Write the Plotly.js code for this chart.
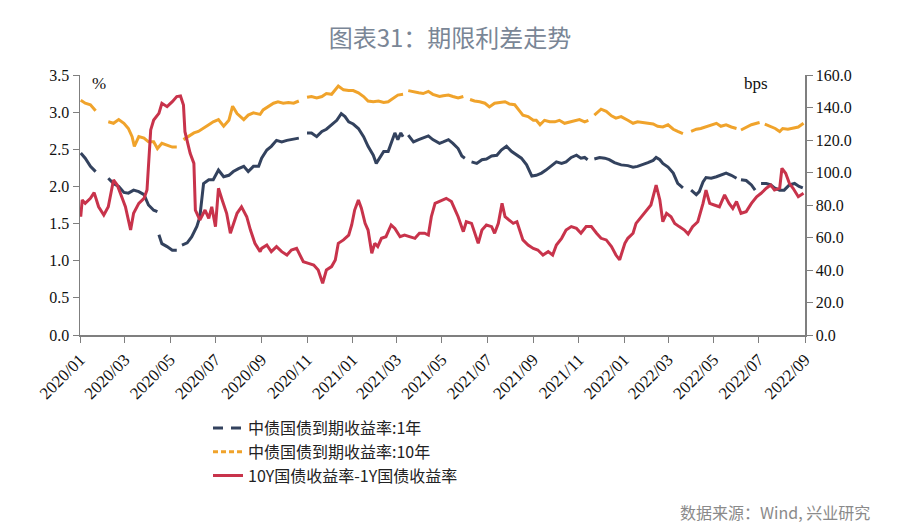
<!DOCTYPE html>
<html><head><meta charset="utf-8">
<script src="https://cdn.plot.ly/plotly-3.0.1.min.js"></script>
<style>html,body{margin:0;padding:0;background:#fff}#chart{width:900px;height:530px}</style>
</head><body><div id="chart"></div>
<script>
// ---- 中债国债到期收益率:10年 (%) ----
const dates10y = ["2020-01-02","2020-01-08","2020-01-15","2020-01-22","2020-01-28","2020-02-08","2020-02-15","2020-02-22","2020-02-29","2020-03-06","2020-03-11","2020-03-14","2020-03-20","2020-03-27","2020-04-02","2020-04-09","2020-04-14","2020-04-20","2020-04-27","2020-05-04","2020-05-10","2020-05-13","2020-05-19","2020-05-26","2020-06-02","2020-06-08","2020-06-15","2020-06-22","2020-06-28","2020-07-05","2020-07-12","2020-07-19","2020-07-24","2020-07-30","2020-08-08","2020-08-14","2020-08-21","2020-08-30","2020-09-03","2020-09-10","2020-09-17","2020-09-23","2020-09-30","2020-10-07","2020-10-14","2020-10-21","2020-10-26","2020-11-01","2020-11-07","2020-11-14","2020-11-21","2020-11-27","2020-12-04","2020-12-13","2020-12-20","2020-12-27","2021-01-02","2021-01-09","2021-01-16","2021-01-22","2021-01-29","2021-02-05","2021-02-12","2021-02-18","2021-02-25","2021-03-03","2021-03-10","2021-03-13","2021-03-17","2021-03-24","2021-03-31","2021-04-06","2021-04-13","2021-04-19","2021-04-28","2021-05-03","2021-05-10","2021-05-16","2021-05-23","2021-05-30","2021-06-03","2021-06-08","2021-06-14","2021-06-21","2021-06-28","2021-07-04","2021-07-11","2021-07-18","2021-07-25","2021-07-31","2021-08-07","2021-08-14","2021-08-18","2021-08-25","2021-09-01","2021-09-05","2021-09-10","2021-09-16","2021-09-23","2021-09-30","2021-10-06","2021-10-13","2021-10-20","2021-10-27","2021-11-02","2021-11-09","2021-11-14","2021-11-18","2021-11-22","2021-12-01","2021-12-08","2021-12-15","2021-12-21","2021-12-28","2022-01-06","2022-01-13","2022-01-19","2022-01-26","2022-02-02","2022-02-09","2022-02-15","2022-02-22","2022-03-01","2022-03-08","2022-03-14","2022-03-21","2022-03-25","2022-04-01","2022-04-08","2022-04-14","2022-04-21","2022-04-28","2022-05-05","2022-05-11","2022-05-18","2022-05-25","2022-06-01","2022-06-04","2022-06-07","2022-06-14","2022-06-21","2022-06-28","2022-07-02","2022-07-05","2022-07-09","2022-07-16","2022-07-23","2022-07-29","2022-08-02","2022-08-09","2022-08-16","2022-08-23","2022-08-30"];
const yield10y = [3.16,3.12,3.10,3.02,null,2.87,2.85,2.90,2.85,2.78,2.67,2.54,2.67,2.65,2.60,2.60,2.51,2.58,2.56,2.53,2.53,null,2.63,2.67,2.72,2.74,2.78,2.83,2.87,2.90,2.81,2.89,3.08,2.98,2.90,2.96,2.99,2.97,3.03,3.07,3.12,3.14,3.12,3.13,3.12,3.15,null,3.20,3.21,3.19,3.21,3.25,3.24,3.35,3.30,3.29,3.29,3.26,3.21,3.15,3.14,3.15,3.13,3.14,3.19,3.23,3.24,null,3.29,3.28,3.26,3.25,3.28,3.24,3.21,3.22,3.23,3.21,3.19,3.21,null,3.17,3.15,3.14,3.12,3.07,3.12,3.13,3.14,3.11,3.10,3.01,2.96,2.94,2.89,2.89,2.83,2.89,2.87,2.87,2.89,2.85,2.87,2.89,2.90,2.87,2.89,null,2.96,3.04,3.01,2.95,2.92,2.94,2.89,2.85,2.87,2.86,2.85,2.84,2.81,2.80,2.83,2.77,2.74,2.71,null,2.74,2.77,2.78,2.80,2.83,2.85,2.81,2.83,2.80,2.78,null,2.76,2.80,2.83,2.85,2.86,null,2.84,2.81,2.78,2.74,2.78,2.77,2.78,2.80,2.85];

// ---- 中债国债到期收益率:1年 (%) ----
const dates1y = ["2020-01-02","2020-01-08","2020-01-15","2020-01-22","2020-01-28","2020-02-08","2020-02-15","2020-02-22","2020-02-29","2020-03-06","2020-03-13","2020-03-20","2020-03-27","2020-04-02","2020-04-09","2020-04-14","2020-04-15","2020-04-16","2020-04-20","2020-04-27","2020-05-04","2020-05-10","2020-05-13","2020-05-17","2020-05-24","2020-05-30","2020-06-06","2020-06-10","2020-06-15","2020-06-22","2020-06-28","2020-07-05","2020-07-12","2020-07-19","2020-07-25","2020-08-01","2020-08-08","2020-08-14","2020-08-21","2020-08-28","2020-09-01","2020-09-08","2020-09-14","2020-09-21","2020-09-28","2020-10-05","2020-10-11","2020-10-21","2020-10-26","2020-11-01","2020-11-07","2020-11-14","2020-11-21","2020-11-27","2020-12-04","2020-12-11","2020-12-17","2020-12-22","2020-12-27","2021-01-02","2021-01-09","2021-01-16","2021-01-22","2021-01-29","2021-02-02","2021-02-06","2021-02-12","2021-02-18","2021-02-22","2021-02-27","2021-03-03","2021-03-07","2021-03-10","2021-03-13","2021-03-17","2021-03-24","2021-03-31","2021-04-06","2021-04-13","2021-04-19","2021-04-28","2021-05-03","2021-05-10","2021-05-16","2021-05-23","2021-05-28","2021-06-01","2021-06-04","2021-06-10","2021-06-17","2021-06-24","2021-06-30","2021-07-07","2021-07-14","2021-07-20","2021-07-27","2021-08-03","2021-08-10","2021-08-16","2021-08-23","2021-08-30","2021-09-05","2021-09-12","2021-09-18","2021-09-25","2021-10-02","2021-10-09","2021-10-15","2021-10-22","2021-10-29","2021-11-04","2021-11-09","2021-11-13","2021-11-18","2021-11-22","2021-11-29","2021-12-06","2021-12-12","2021-12-19","2021-12-28","2022-01-06","2022-01-13","2022-01-19","2022-01-26","2022-02-02","2022-02-09","2022-02-13","2022-02-18","2022-02-22","2022-03-01","2022-03-08","2022-03-14","2022-03-21","2022-03-25","2022-04-01","2022-04-08","2022-04-12","2022-04-17","2022-04-21","2022-04-28","2022-05-05","2022-05-11","2022-05-18","2022-05-25","2022-06-01","2022-06-04","2022-06-07","2022-06-14","2022-06-21","2022-06-26","2022-06-29","2022-07-04","2022-07-11","2022-07-17","2022-07-22","2022-07-29","2022-08-04","2022-08-11","2022-08-18","2022-08-24","2022-08-29"];
const yield1y = [2.45,2.38,2.27,2.20,null,2.11,2.04,2.00,1.92,1.91,1.95,1.93,1.89,1.75,1.68,1.66,null,1.35,1.23,1.19,1.14,1.14,null,1.21,1.24,1.32,1.46,1.59,2.04,2.09,2.09,2.22,2.13,2.15,2.20,2.24,2.27,2.20,2.27,2.27,2.38,2.49,2.54,2.62,2.60,2.62,2.63,2.65,null,2.72,2.72,2.67,2.74,2.77,2.83,2.89,2.98,2.94,2.87,2.84,2.78,2.67,2.54,2.42,2.31,2.38,2.47,2.47,2.58,2.72,2.63,2.72,2.67,null,2.69,2.60,2.63,2.65,2.68,2.63,2.58,2.60,2.63,2.58,2.51,2.41,2.38,null,2.33,2.31,2.36,2.37,2.41,2.42,2.49,2.54,2.47,2.42,2.38,2.29,2.14,2.15,2.18,2.22,2.27,2.33,2.31,2.33,2.39,2.42,2.38,2.39,2.36,null,2.37,2.39,2.38,2.36,2.32,2.29,2.28,2.26,2.27,2.29,2.32,2.35,2.39,2.36,2.31,2.26,2.18,2.04,1.98,null,1.95,1.89,1.93,2.06,2.12,2.11,2.13,2.15,2.18,2.15,2.11,null,2.09,2.08,2.02,1.95,null,2.04,2.04,2.02,1.98,1.95,1.95,2.02,2.04,2.00,1.98];

// ---- 10Y国债收益率-1Y国债收益率 (bps) ----
const datesSpread = ["2020-01-02","2020-01-04","2020-01-08","2020-01-15","2020-01-20","2020-01-26","2020-02-02","2020-02-08","2020-02-15","2020-02-20","2020-02-26","2020-03-02","2020-03-09","2020-03-13","2020-03-20","2020-03-27","2020-03-31","2020-04-05","2020-04-09","2020-04-16","2020-04-20","2020-04-27","2020-05-04","2020-05-10","2020-05-15","2020-05-19","2020-05-21","2020-05-28","2020-06-02","2020-06-04","2020-06-10","2020-06-17","2020-06-22","2020-06-26","2020-07-01","2020-07-05","2020-07-10","2020-07-16","2020-07-21","2020-07-25","2020-07-30","2020-08-05","2020-08-12","2020-08-17","2020-08-23","2020-08-30","2020-09-01","2020-09-08","2020-09-14","2020-09-21","2020-09-28","2020-10-05","2020-10-11","2020-10-18","2020-10-23","2020-10-27","2020-11-03","2020-11-10","2020-11-16","2020-11-22","2020-11-27","2020-12-04","2020-12-09","2020-12-13","2020-12-20","2020-12-27","2020-12-31","2021-01-04","2021-01-09","2021-01-13","2021-01-18","2021-01-22","2021-01-27","2021-01-31","2021-02-04","2021-02-09","2021-02-15","2021-02-22","2021-02-27","2021-03-06","2021-03-12","2021-03-19","2021-03-26","2021-04-01","2021-04-08","2021-04-13","2021-04-17","2021-04-22","2021-04-28","2021-05-01","2021-05-07","2021-05-14","2021-05-19","2021-05-23","2021-05-30","2021-06-03","2021-06-10","2021-06-14","2021-06-19","2021-06-24","2021-06-30","2021-07-07","2021-07-11","2021-07-16","2021-07-21","2021-07-25","2021-07-31","2021-08-05","2021-08-10","2021-08-14","2021-08-18","2021-08-25","2021-09-01","2021-09-07","2021-09-14","2021-09-21","2021-09-27","2021-10-02","2021-10-09","2021-10-15","2021-10-22","2021-10-29","2021-11-04","2021-11-11","2021-11-18","2021-11-25","2021-12-01","2021-12-08","2021-12-15","2021-12-21","2021-12-26","2021-12-28","2022-01-02","2022-01-06","2022-01-13","2022-01-17","2022-01-24","2022-01-31","2022-02-06","2022-02-13","2022-02-18","2022-02-22","2022-02-27","2022-03-05","2022-03-10","2022-03-16","2022-03-23","2022-03-28","2022-04-03","2022-04-10","2022-04-17","2022-04-21","2022-04-26","2022-05-02","2022-05-09","2022-05-16","2022-05-22","2022-05-27","2022-06-01","2022-06-07","2022-06-14","2022-06-21","2022-06-28","2022-07-04","2022-07-11","2022-07-17","2022-07-22","2022-07-29","2022-08-01","2022-08-06","2022-08-11","2022-08-16","2022-08-23","2022-08-30"];
const spreadBps = [72.8,83.1,81.0,84.1,87.6,78.9,73.8,78.9,95.4,92.3,85.1,78.9,64.6,74.9,81.0,84.1,89.2,126.2,132.3,136.4,142.6,140.5,143.6,146.7,147.1,141.5,125.1,111.8,105.6,76.9,70.8,76.9,71.8,78.9,66.7,90.3,83.1,74.9,62.6,68.7,74.9,78.9,72.8,64.6,56.4,51.3,53.3,55.4,51.3,54.4,51.3,49.2,52.3,53.3,49.2,45.1,44.1,43.1,40.0,31.8,40.0,42.1,46.2,56.4,58.5,61.5,67.7,76.9,83.1,78.0,68.7,64.6,50.3,56.4,54.4,59.5,60.5,67.7,65.6,60.5,61.5,60.5,59.5,62.6,62.6,61.5,72.8,81.0,82.1,83.1,84.1,82.1,76.9,72.8,63.6,69.7,68.7,62.6,56.4,64.6,67.7,66.7,62.6,68.7,81.0,72.8,70.8,68.7,69.7,64.6,58.5,55.4,53.3,52.3,49.2,51.3,49.2,55.4,59.5,64.6,66.7,65.6,62.6,66.7,66.7,62.6,59.5,58.5,54.4,49.2,46.2,49.2,56.4,59.5,62.6,68.7,72.8,76.9,80.0,92.3,83.1,69.7,74.9,72.8,68.7,66.7,64.6,62.1,66.7,69.7,81.0,89.2,81.0,80.0,78.9,86.2,81.0,77.9,82.1,74.9,75.9,81.0,85.1,87.2,90.3,92.3,89.2,90.3,102.6,99.5,93.3,90.3,85.1,87.2];

const name1y = "中债国债到期收益率:1年";
const name10y = "中债国债到期收益率:10年";
const nameSpread = "10Y国债收益率-1Y国债收益率";
const leftTicks = [0,0.5,1,1.5,2,2.5,3,3.5];
const rightTicks = [0,20,40,60,80,100,120,140,160];

const C1 = "#33425E", C10 = "#F0A32B", CS = "#C8334B";
const serif = "Liberation Serif, Times New Roman, serif";
const cjk = "Noto Sans CJK SC, sans-serif";

const traces = [
  {x: dates1y, y: yield1y, type: "scatter", mode: "lines", name: name1y, showlegend: false,
   line: {color: C1, width: 3}, connectgaps: false, hoverinfo: "skip"},
  {x: dates10y, y: yield10y, type: "scatter", mode: "lines", name: name10y, showlegend: false,
   line: {color: C10, width: 3}, connectgaps: false, hoverinfo: "skip"},
  {x: datesSpread, y: spreadBps, type: "scatter", mode: "lines", name: nameSpread, yaxis: "y2", showlegend: false,
   line: {color: CS, width: 3}, hoverinfo: "skip"},
  // legend entries
  {x: [null], y: [null], type: "scatter", mode: "lines", name: name1y, line: {color: C1, width: 3, dash: "10px,8px"}},
  {x: [null], y: [null], type: "scatter", mode: "lines", name: name10y, line: {color: C10, width: 3, dash: "5px,3px"}},
  {x: [null], y: [null], type: "scatter", mode: "lines", name: nameSpread, line: {color: CS, width: 3}}
];

const layout = {
  width: 900, height: 530,
  margin: {l: 80, r: 95, t: 75, b: 195},
  paper_bgcolor: "#fff", plot_bgcolor: "#fff",
  title: {text: "图表31：期限利差走势", x: 0.5, xref: "container", y: 1 - 39/530, yref: "container", yanchor: "middle",
          font: {family: cjk, size: 24, color: "#7A8696"}},
  xaxis: {type: "date", range: ["2020-01-01", "2022-09-01"], tick0: "2020-01-01", dtick: "M2",
          tickformat: "%Y/%m", tickangle: -45, ticks: "outside", ticklen: 6, tickcolor: "#7f7f7f",
          showline: true, linecolor: "#7f7f7f", linewidth: 2, showgrid: false, zeroline: false,
          tickfont: {family: serif, size: 17, color: "#111"}},
  yaxis: {range: [0, 3.5], tickvals: leftTicks, tickformat: ".1f", ticks: "outside", ticklen: 6, tickcolor: "#7f7f7f",
          showline: true, linecolor: "#7f7f7f", linewidth: 1.5, showgrid: false, zeroline: false,
          tickfont: {family: serif, size: 16, color: "#111"}},
  yaxis2: {range: [0, 160], tickvals: rightTicks, tickformat: ".1f", overlaying: "y", side: "right",
           ticks: "outside", ticklen: 6, tickcolor: "#7f7f7f",
           showline: true, linecolor: "#7f7f7f", linewidth: 1.5, showgrid: false, zeroline: false,
           tickfont: {family: serif, size: 16, color: "#111"}},
  showlegend: true,
  legend: {x: (208 - 80) / 725, xanchor: "left", y: (335 - 411) / 260, yanchor: "top", orientation: "v",
           font: {family: cjk, size: 16, color: "#222"}, bgcolor: "rgba(0,0,0,0)", tracegroupgap: 0},
  annotations: [
    {text: "%", xref: "paper", yref: "paper", x: (90 - 80) / 725, y: (335 - 83) / 260, xanchor: "left", yanchor: "middle",
     showarrow: false, font: {family: serif, size: 17, color: "#111"}},
    {text: "bps", xref: "paper", yref: "paper", x: (742 - 80) / 725, y: (335 - 83) / 260, xanchor: "left", yanchor: "middle",
     showarrow: false, font: {family: serif, size: 17, color: "#111"}},
    {text: "数据来源：Wind, 兴业研究", xref: "paper", yref: "paper", x: (872 - 80) / 725, y: (335 - 512) / 260,
     xanchor: "right", yanchor: "middle", showarrow: false, font: {family: cjk, size: 16, color: "#8a8a8a"}}
  ]
};

Plotly.newPlot("chart", traces, layout, {displayModeBar: false, staticPlot: true});
</script>
</body></html>
